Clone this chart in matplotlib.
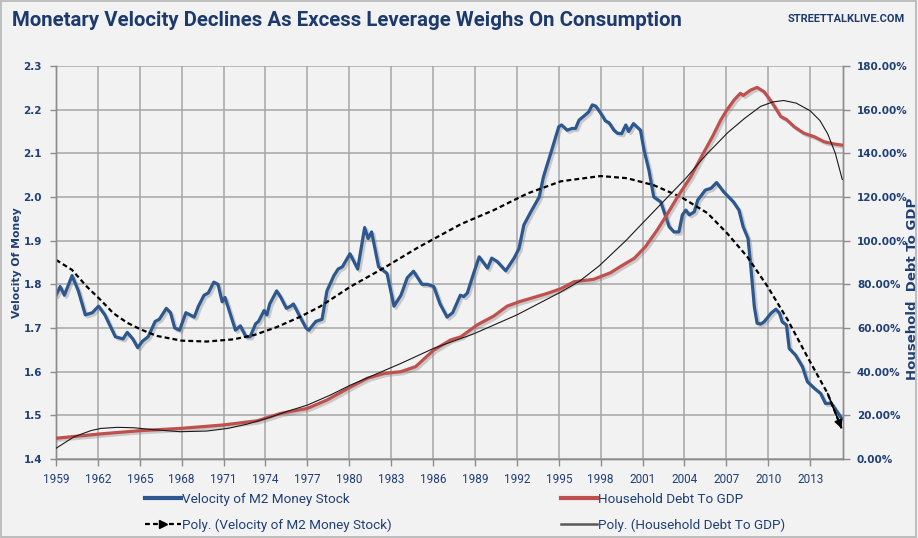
import matplotlib
matplotlib.use("Agg")
import matplotlib.pyplot as plt
import matplotlib.patheffects as pe
from matplotlib.legend_handler import HandlerLine2D
from matplotlib.lines import Line2D
from matplotlib.patches import Rectangle
from matplotlib.font_manager import FontProperties

# Velocity of M2 money stock (left axis)
vel_years = [1959.0, 1959.3, 1959.6, 1960.15, 1960.6, 1961.1, 1961.6, 1962.05, 1962.5, 1963.25,
             1963.8, 1964.1, 1964.5, 1964.85, 1965.2, 1965.6, 1966.1, 1966.4, 1966.9, 1967.2,
             1967.5, 1967.85, 1968.3, 1968.9, 1969.2, 1969.6, 1969.9, 1970.3, 1970.6, 1970.9,
             1971.1, 1971.5, 1971.85, 1972.2, 1972.6, 1972.9, 1973.3, 1973.5, 1973.9, 1974.1,
             1974.3, 1974.8, 1975.1, 1975.5, 1975.8, 1976.0, 1976.4, 1976.9, 1977.1, 1977.6,
             1978.05, 1978.4, 1978.9, 1979.2, 1979.5, 1980.05, 1980.6, 1981.1, 1981.35, 1981.6,
             1982.1, 1982.7, 1983.2, 1983.7, 1984.15, 1984.6, 1985.2, 1985.6, 1986.05, 1986.5,
             1987.0, 1987.4, 1987.95, 1988.2, 1988.45, 1988.9, 1989.3, 1989.9, 1990.2, 1990.6,
             1991.2, 1991.8, 1992.15, 1992.5, 1993.0, 1993.6, 1993.9, 1994.5, 1995.0, 1995.2,
             1995.6, 1995.95, 1996.2, 1996.45, 1996.9, 1997.15, 1997.4, 1997.65, 1998.0, 1998.35,
             1998.6, 1998.95, 1999.2, 1999.5, 1999.8, 2000.0, 2000.35, 2000.85, 2001.1, 2001.45,
             2001.8, 2002.3, 2002.5, 2002.9, 2003.25, 2003.6, 2003.85, 2004.1, 2004.35, 2004.7,
             2004.95, 2005.5, 2005.9, 2006.3, 2006.8, 2007.5, 2007.9, 2008.2, 2008.55, 2008.75,
             2009.0, 2009.2, 2009.45, 2009.7, 2010.2, 2010.55, 2010.8, 2011.0, 2011.3, 2011.5,
             2011.95, 2012.45, 2012.8, 2013.3, 2013.75, 2014.1, 2014.5, 2014.85, 2015.25]
vel_values = [1.775, 1.795, 1.775, 1.82, 1.785, 1.73, 1.735, 1.75, 1.73, 1.68,
              1.675, 1.69, 1.675, 1.655, 1.67, 1.68, 1.715, 1.72, 1.745, 1.735,
              1.70, 1.695, 1.735, 1.725, 1.75, 1.775, 1.78, 1.805, 1.80, 1.76,
              1.77, 1.73, 1.695, 1.705, 1.68, 1.68, 1.71, 1.715, 1.74, 1.73,
              1.755, 1.785, 1.77, 1.745, 1.75, 1.755, 1.73, 1.70, 1.695, 1.715,
              1.72, 1.785, 1.82, 1.835, 1.84, 1.87, 1.835, 1.93, 1.905, 1.92,
              1.84, 1.825, 1.75, 1.775, 1.815, 1.83, 1.80, 1.80, 1.795, 1.755,
              1.725, 1.735, 1.775, 1.772, 1.78, 1.825, 1.863, 1.837, 1.86, 1.852,
              1.831, 1.86, 1.882, 1.936, 1.966, 2.0, 2.046, 2.108, 2.161, 2.165,
              2.153, 2.157, 2.157, 2.176, 2.188, 2.195, 2.211, 2.208, 2.192, 2.174,
              2.17, 2.153, 2.146, 2.145, 2.165, 2.15, 2.168, 2.153, 2.108, 2.062,
              2.0, 1.989, 1.97, 1.932, 1.92, 1.92, 1.959, 1.97, 1.959, 1.966,
              1.993, 2.016, 2.02, 2.033, 2.012, 1.989, 1.97, 1.932, 1.905, 1.84,
              1.749, 1.711, 1.709, 1.714, 1.734, 1.743, 1.734, 1.714, 1.707, 1.653,
              1.638, 1.611, 1.577, 1.562, 1.55, 1.527, 1.528, 1.512, 1.493]

# Household debt to GDP, percent (right axis)
debt_years = [1959.0, 1962.2, 1965.05, 1967.9, 1971.0, 1973.4, 1975.1, 1977.0, 1978.4, 1980.1,
              1981.3, 1982.5, 1983.7, 1984.75, 1986.05, 1987.25, 1988.0, 1989.15, 1990.35, 1991.3,
              1992.15, 1993.0, 1994.2, 1995.15, 1996.1, 1997.5, 1998.7, 1999.5, 2000.4, 2001.2,
              2002.05, 2002.8, 2003.5, 2004.45, 2005.15, 2006.0, 2006.6, 2007.0, 2007.55, 2008.0,
              2008.2, 2008.75, 2009.2, 2009.7, 2010.3, 2010.9, 2011.3, 2011.85, 2012.55, 2013.3,
              2014.0, 2014.7, 2015.25]
debt_values = [9.5, 11.5, 13.0, 14.0, 15.6, 17.5, 20.9, 23.2, 27.0, 33.0,
               37.0, 39.2, 40.0, 42.3, 49.9, 54.5, 56.0, 61.4, 65.5, 70.0,
               72.0, 73.6, 75.9, 78.0, 81.2, 82.3, 85.3, 88.5, 91.9, 97.2,
               104.9, 112.5, 120.0, 129.3, 137.7, 147.6, 155.3, 159.5, 164.4, 167.5,
               166.5, 169.0, 170.2, 168.2, 162.9, 156.8, 155.5, 152.2, 149.2, 147.6,
               145.3, 144.3, 143.8]

# Polynomial trendlines as drawn on the chart
vel_trend_years = [1959.0, 1960.15, 1961.2, 1962.2, 1963.1, 1964.1, 1965.05, 1966.2, 1968.0, 1969.8,
                   1971.7, 1973.2, 1974.8, 1976.5, 1977.9, 1980.1, 1982.5, 1984.9, 1988.0, 1990.35,
                   1992.75, 1995.15, 1998.0, 1999.9, 2001.8, 2003.75, 2005.65, 2007.05, 2008.5, 2009.95,
                   2011.4, 2012.8, 2014.25, 2015.25]
vel_trend = [1.856, 1.833, 1.795, 1.764, 1.734, 1.712, 1.697, 1.682, 1.671, 1.669,
             1.674, 1.684, 1.702, 1.726, 1.749, 1.795, 1.838, 1.884, 1.938, 1.970,
             2.008, 2.036, 2.048, 2.043, 2.027, 2.0, 1.963, 1.917, 1.863, 1.795,
             1.718, 1.634, 1.550, 1.47]

debt_trend_years = [1959.0, 1960.3, 1961.5, 1962.2, 1963.4, 1964.6, 1966.2, 1967.9, 1969.8, 1971.3,
                    1972.7, 1974.1, 1975.5, 1977.0, 1978.65, 1980.1, 1981.3, 1983.7, 1986.05, 1988.9,
                    1992.0, 1995.15, 1996.5, 1997.9, 1999.8, 2001.1, 2002.8, 2004.1, 2005.5, 2007.1,
                    2008.3, 2009.45, 2010.3, 2011.1, 2012.0, 2013.0, 2013.7, 2014.25, 2014.8, 2015.3]
debt_trend = [4.9, 10.2, 13.0, 14.0, 14.5, 14.3, 13.3, 12.5, 12.8, 14.0,
              16.0, 18.6, 21.7, 24.7, 29.3, 33.9, 37.2, 43.8, 50.7, 57.3,
              66.0, 76.5, 81.5, 88.5, 100.0, 108.7, 120.0, 128.6, 139.0, 149.5,
              156.0, 161.5, 163.5, 164.2, 163.0, 159.5, 155.0, 149.0, 140.0, 128.0]

x_ticks = list(range(1959, 2014, 3))
left_ticks = [1.4, 1.5, 1.6, 1.7, 1.8, 1.9, 2.0, 2.1, 2.2, 2.3]
right_ticks = list(range(0, 181, 20))

navy = "#1f3f77"
blue = "#2c578f"
red = "#c0504d"
bg = "#f2f2f2"
grid = "#a6a6a6"
narrow = "Roboto"

fig = plt.figure(figsize=(9.18, 5.38), dpi=100, facecolor=bg)
fig.patches.append(Rectangle((0.001, 0.001), 0.997, 0.997, transform=fig.transFigure,
                             fill=False, edgecolor="#b4b4b4", lw=1.2))

ax = fig.add_axes([56 / 918, 79 / 538, 787 / 918, 393 / 538])
ax.set_facecolor(bg)
ax2 = ax.twinx()

shadow = [pe.SimpleLineShadow(offset=(1.5, -1.5), shadow_color="#7f7f7f", alpha=0.35), pe.Normal()]

ax.plot(vel_years, vel_values, color=blue, lw=2.3, solid_joinstyle="round", path_effects=shadow, zorder=3)
ax.plot(vel_trend_years, vel_trend, color="black", lw=1.6, ls=(0, (2.2, 1.4)), zorder=4)
ax.annotate("", xy=(vel_trend_years[-1], vel_trend[-1]), xytext=(vel_trend_years[-2], vel_trend[-2]),
            arrowprops=dict(arrowstyle="-|>", color="black", lw=1.2, mutation_scale=12,
                            shrinkA=0, shrinkB=0), zorder=5)

ax2.plot(debt_years, debt_values, color=red, lw=2.3, solid_joinstyle="round", path_effects=shadow, zorder=3)
ax2.plot(debt_trend_years, debt_trend, color="#1a1a1a", lw=0.8, zorder=4)

ax.set_xlim(1959, 2015.35)
ax.set_ylim(1.4, 2.3)
ax2.set_ylim(0, 180)

ax.set_xticks(x_ticks)
ax.set_yticks(left_ticks)
ax.set_yticklabels([f"{v:.1f}" for v in left_ticks])
ax2.set_yticks(right_ticks)
ax2.set_yticklabels([f"{v:.2f}%" for v in right_ticks])

ax.grid(True, color=grid, lw=1.1)
ax.set_axisbelow(True)

for a in (ax, ax2):
    a.spines["top"].set_visible(False)
    for s in ("left", "bottom", "right"):
        a.spines[s].set_color("#8c8c8c")
        a.spines[s].set_linewidth(1.0)
ax.tick_params(axis="y", colors="#8c8c8c", labelcolor=navy, length=4, width=1, pad=6, labelsize=7.5)
ax.tick_params(axis="x", colors="#8c8c8c", labelcolor=navy, length=5, width=1, pad=5, labelsize=8.5)
ax2.tick_params(axis="y", colors="#8c8c8c", labelcolor=navy, length=5, width=1, pad=5, labelsize=7.5)
for lab in ax.get_yticklabels() + ax2.get_yticklabels():
    lab.set_fontweight("bold")
for lab in ax.get_xticklabels():
    lab.set_family(narrow)

fig.text(17 / 918, 1 - 263 / 538, "Velocity Of Money", rotation=90, ha="center", va="center",
         color=navy, fontsize=7.8, fontweight="bold")
fig.text(912 / 918, 1 - 289 / 538, "Household  Debt To GDP", rotation=90, ha="center", va="center",
         color=navy, fontsize=9.5, fontweight="bold")

title = fig.text(12 / 918, 1 - 20 / 538,
                 "Monetary Velocity Declines As Excess Leverage Weighs On Consumption",
                 ha="left", va="center", color="#1c3a6e", fontsize=16, fontweight="bold", family=narrow)
site = fig.text(905 / 918, 1 - 19 / 538, "STREETTALKLIVE.COM", ha="right", va="center",
                color="#1c3a6e", fontsize=9, fontweight="bold", family=narrow)

# size the title and site label to the widths they take in the reference
fig.canvas.draw()
for txt, target in ((title, 672), (site, 117)):
    w = txt.get_window_extent().width
    txt.set_fontsize(txt.get_fontsize() * target / w)


class ArrowEnd(HandlerLine2D):
    def get_xdata(self, legend, xdescent, ydescent, width, height, fontsize):
        xdata, _ = super().get_xdata(legend, xdescent, ydescent, width, height, fontsize)
        return xdata, [xdata[-1]]


h_vel = Line2D([], [], color=blue, lw=3)
h_vel_t = Line2D([], [], color="black", lw=1.6, ls=(0, (2.2, 1.4)), marker=">", markersize=6)
h_debt = Line2D([], [], color=red, lw=3)
h_debt_t = Line2D([], [], color="#595959", lw=1.8)

leg_kw = dict(frameon=False, handlelength=2.65, handletextpad=0.1, labelspacing=0.9,
              labelcolor=navy, prop=FontProperties(family=narrow, size=9.7), numpoints=1)
leg1 = fig.legend([h_vel, h_vel_t], ["Velocity of M2 Money Stock", "Poly. (Velocity of M2 Money Stock)"],
                  loc="upper left", bbox_to_anchor=(133 / 918, 1 - 481 / 538),
                  handler_map={h_vel_t: ArrowEnd()}, **leg_kw)
leg2 = fig.legend([h_debt, h_debt_t], ["Household Debt To GDP", "Poly. (Household Debt To GDP)"],
                  loc="upper left", bbox_to_anchor=(549 / 918, 1 - 481 / 538), **leg_kw)

fig.savefig("out.png", dpi=100, facecolor=bg)
